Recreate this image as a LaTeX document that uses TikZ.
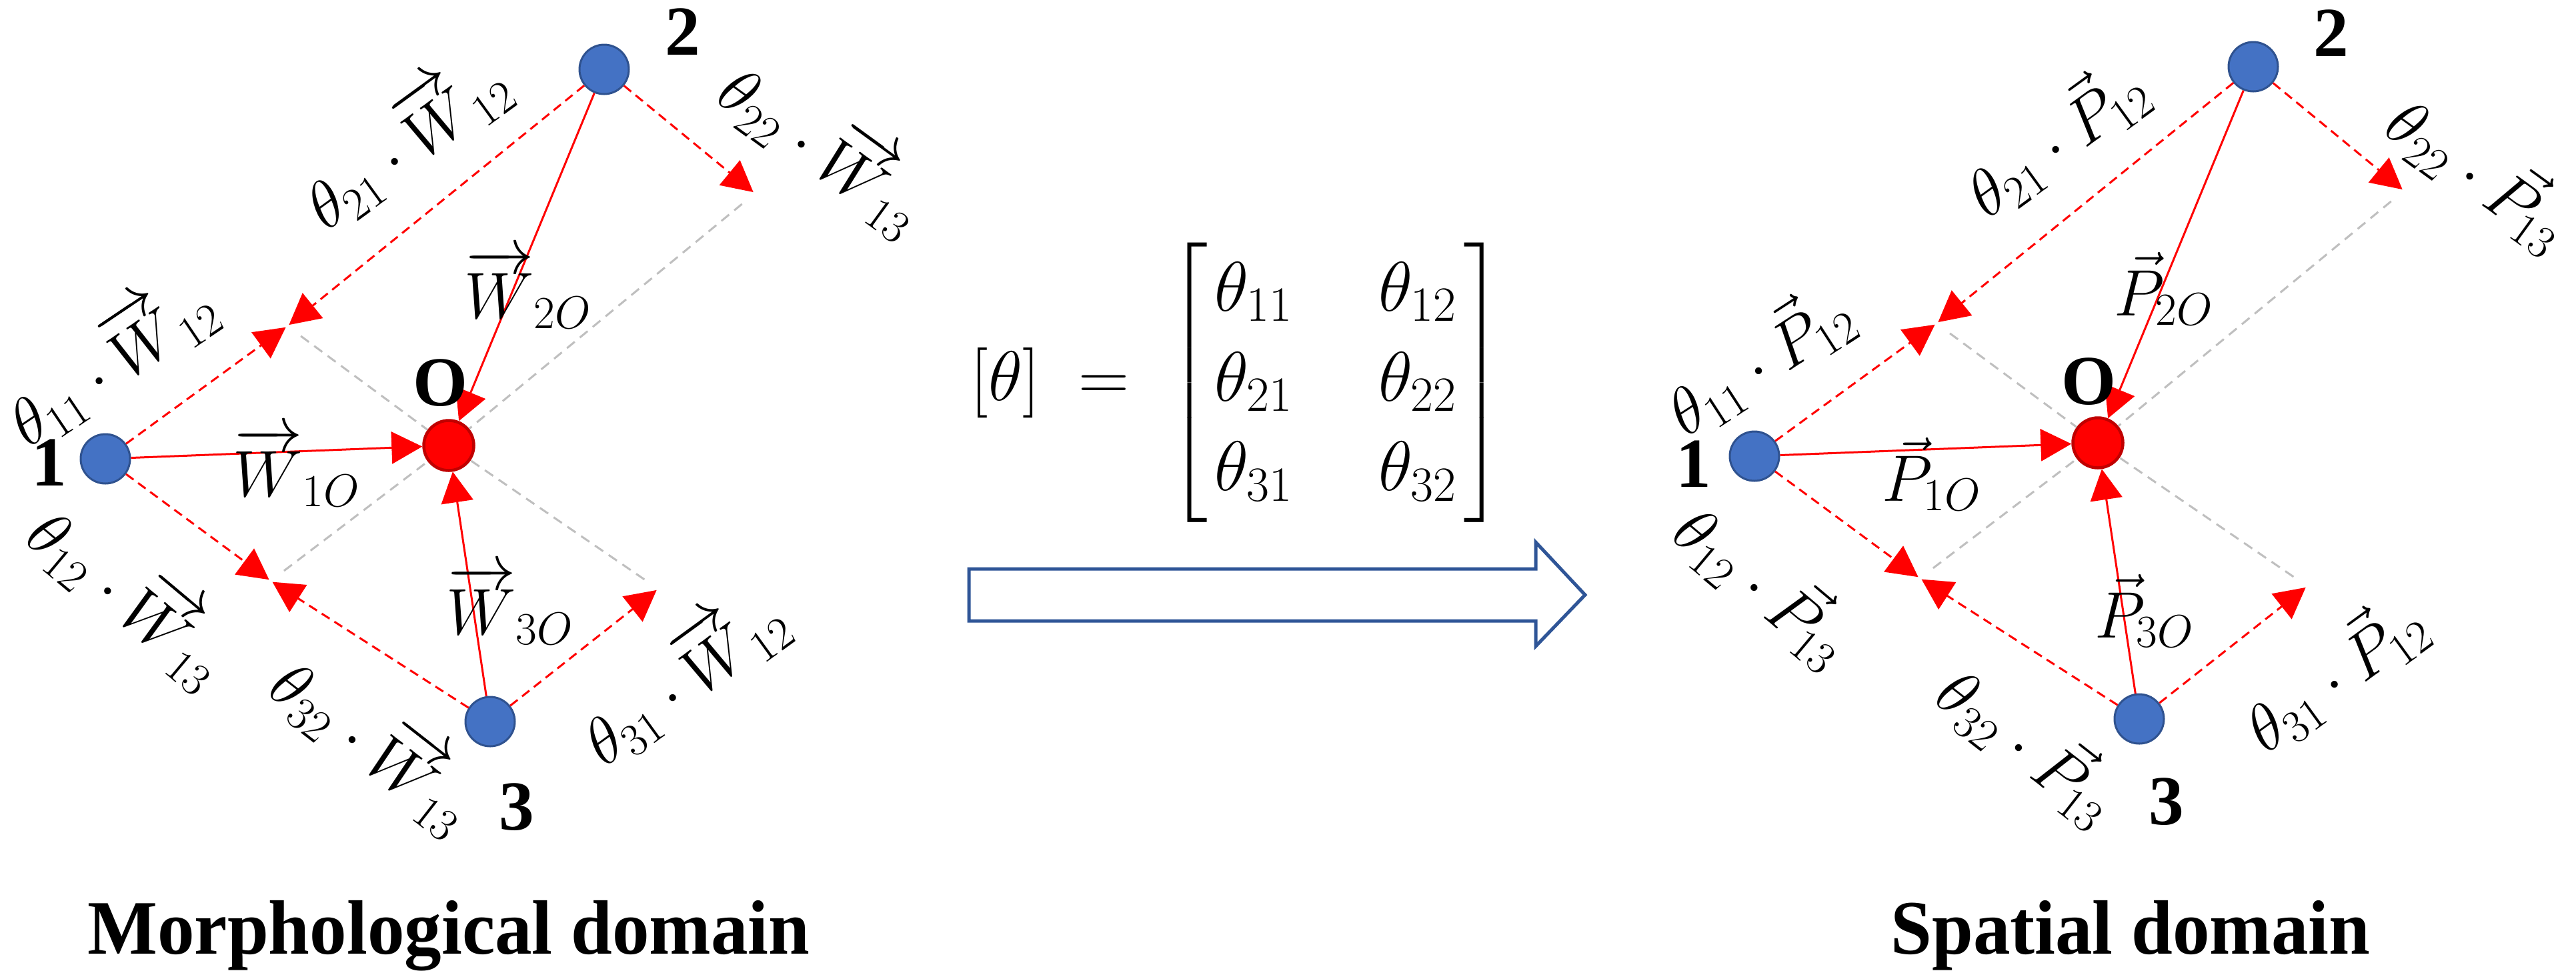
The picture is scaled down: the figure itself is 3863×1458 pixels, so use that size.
\RequirePackage{fix-cm}
\documentclass[tikz,border=0pt]{standalone}
\usepackage{amsmath}
\usepackage{fontspec}
\newfontfamily\tnr{Liberation Serif}
\usetikzlibrary{arrows.meta}
\definecolor{nodeblue}{HTML}{4472C4}
\definecolor{nodeblueline}{HTML}{2F528F}
\definecolor{ored}{HTML}{FF0000}
\definecolor{oredline}{HTML}{C00000}
\definecolor{guide}{HTML}{BFBFBF}
\definecolor{bigarrow}{HTML}{2F5597}
\tikzset{
  pt/.style={circle, fill=nodeblue, draw=nodeblueline, line width=0.3mm, minimum size=7.4mm, inner sep=0pt},
  onode/.style={circle, fill=ored, draw=oredline, line width=0.45mm, minimum size=7.5mm, inner sep=0pt},
  vec/.style={red, line width=0.3mm, -{Triangle[length=4.6mm,width=4.8mm]}},
  comp/.style={vec, dash pattern=on 1.4mm off 0.85mm, shorten >=0.3mm},
  guideline/.style={guide, line width=0.3mm, dash pattern=on 1.5mm off 1mm, shorten <=2.5mm},
  lab/.style={font=\fontsize{28}{32}\selectfont, inner sep=0pt},
  num/.style={font=\tnr\bfseries\fontsize{30}{34}\selectfont, inner sep=0pt},
  captext/.style={font=\tnr\bfseries\fontsize{31.6}{36}\selectfont, inner sep=0pt, anchor=base, yscale=1.04},
  bigarr/.style={draw=bigarrow, fill=white, line width=0.5mm, line join=miter},
}
\begin{document}
\begin{tikzpicture}[x=0.1mm, y=-0.1mm]
\useasboundingbox (0,0) rectangle (3863,1458);
\fill[white] (0,0) rectangle (3863,1458);

% ---------------- left panel: morphological domain
\coordinate (la) at (431,489);
\coordinate (lb) at (1132,290);
\coordinate (lc) at (406,871);
\coordinate (ld) at (987,883);
\node[pt] (l1) at (158,688) {};
\node[pt] (l2) at (906,104) {};
\node[pt] (l3) at (735,1082) {};
\node[onode] (lO) at (673,668) {};
\draw[guideline] (la) -- (lO);
\draw[guideline] (lb) -- (lO);
\draw[guideline] (lc) -- (lO);
\draw[guideline] (ld) -- (lO);
\draw[comp] (l2) -- (la);
\draw[comp] (l2) -- (lb);
\draw[comp] (l1) -- (la);
\draw[comp] (l1) -- (lc);
\draw[comp] (l3) -- (lc);
\draw[comp] (l3) -- (ld);
\draw[vec] (l1) -- (lO);
\draw[vec] (l2) -- (lO);
\draw[vec] (l3) -- (lO);
\node[lab, rotate=36] (lt21) at (605,209) {$\theta_{21}\cdot\overrightarrow{W}_{12}$};
\node[lab, rotate=-36] (lt22) at (1238,218) {$\theta_{22}\cdot\overrightarrow{W}_{13}$};
\node[lab, rotate=34] (lt11) at (163,538) {$\theta_{11}\cdot\overrightarrow{W}_{12}$};
\node[lab, rotate=-40] (lt12) at (197,890) {$\theta_{12}\cdot\overrightarrow{W}_{13}$};
\node[lab, rotate=-38] (lt32) at (564,1112) {$\theta_{32}\cdot\overrightarrow{W}_{13}$};
\node[lab, rotate=36] (lt31) at (1022,1013) {$\theta_{31}\cdot\overrightarrow{W}_{12}$};
\node[lab] (lw20) at (792,433) {$\overrightarrow{W}_{2O}$};
\node[lab] (lw10) at (445,700) {$\overrightarrow{W}_{1O}$};
\node[lab] (lw30) at (765,907) {$\overrightarrow{W}_{3O}$};
\node[num] (lOl) at (661,574) {O};
\node[num] (l1l) at (74,694) {1};
\node[num] (l2l) at (1024,48) {2};
\node[num] (l3l) at (775,1210) {3};
\node[captext] (capL) at (673,1430) {Morphological domain};

% ---------------- middle: matrix and arrow
\node[anchor=west, inner sep=0pt, font=\fontsize{30}{38.4}\selectfont] (eq) at (1455,574)
  {$\setlength{\arraycolsep}{18.3pt}[\theta]\;=\;\left[\hspace{3pt}\begin{matrix}\theta_{11} & \theta_{12}\\ \theta_{21} & \theta_{22}\\ \theta_{31} & \theta_{32}\end{matrix}\hspace{3pt}\right]$};
\draw[bigarr] (1453,853) -- (2303,853) -- (2303,813) -- (2377,892) -- (2303,969) -- (2303,931) -- (1453,931) -- cycle;

% ---------------- right panel: spatial domain
\begin{scope}[shift={(2473,-4)}]
\coordinate (ra) at (431,489);
\coordinate (rb) at (1132,290);
\coordinate (rc) at (406,871);
\coordinate (rd) at (987,883);
\node[pt] (r1) at (158,688) {};
\node[pt] (r2) at (906,104) {};
\node[pt] (r3) at (735,1082) {};
\node[onode] (rO) at (673,668) {};
\draw[guideline] (ra) -- (rO);
\draw[guideline] (rb) -- (rO);
\draw[guideline] (rc) -- (rO);
\draw[guideline] (rd) -- (rO);
\draw[comp] (r2) -- (ra);
\draw[comp] (r2) -- (rb);
\draw[comp] (r1) -- (ra);
\draw[comp] (r1) -- (rc);
\draw[comp] (r3) -- (rc);
\draw[comp] (r3) -- (rd);
\draw[vec] (r1) -- (rO);
\draw[vec] (r2) -- (rO);
\draw[vec] (r3) -- (rO);
\node[lab, rotate=36] (rt21) at (608,211) {$\theta_{21}\cdot\vec{P}_{12}$};
\node[lab, rotate=-36] (rt22) at (1247,261) {$\theta_{22}\cdot\vec{P}_{13}$};
\node[lab, rotate=33] (rt11) at (163,543) {$\theta_{11}\cdot\vec{P}_{12}$};
\node[lab, rotate=-40] (rt12) at (174,879) {$\theta_{12}\cdot\vec{P}_{13}$};
\node[lab, rotate=-38] (rt32) at (571,1119) {$\theta_{32}\cdot\vec{P}_{13}$};
\node[lab, rotate=36] (rt31) at (1026,1013) {$\theta_{31}\cdot\vec{P}_{12}$};
\node[lab] (rp20) at (772,437) {$\vec{P}_{2O}$};
\node[lab] (rp10) at (424,715) {$\vec{P}_{1O}$};
\node[lab] (rp30) at (743,920) {$\vec{P}_{3O}$};
\node[num] (rOl) at (659,576) {O};
\node[num] (r1l) at (67,700) {1};
\node[num] (r2l) at (1023,54) {2};
\node[num] (r3l) at (776,1206) {3};
\end{scope}
\node[captext] (capR) at (3195,1430) {Spatial domain};
\end{tikzpicture}
\end{document}
